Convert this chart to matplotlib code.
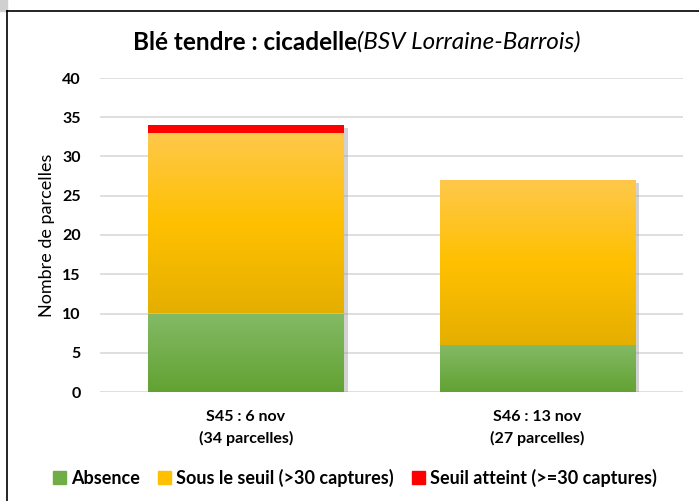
import numpy as np
import matplotlib
matplotlib.use("Agg")
import matplotlib.pyplot as plt
from matplotlib.colors import LinearSegmentedColormap
from matplotlib.patches import Rectangle
from matplotlib.lines import Line2D
import matplotlib.patheffects as pe

plt.rcParams['font.family'] = ['Lato', 'DejaVu Sans']

categories = ["S45 : 6 nov\n(34 parcelles)", "S46 : 13 nov\n(27 parcelles)"]
absence = [10, 6]
sous_seuil = [23, 21]
seuil_atteint = [1, 0]
series_names = ["Absence", "Sous le seuil (>30 captures)", "Seuil atteint (>=30 captures)"]
yticks = [0, 5, 10, 15, 20, 25, 30, 35, 40]

W, H = 699, 501
fig = plt.figure(figsize=(W / 100, H / 100), dpi=100)
ax = fig.add_axes([100 / W, 1 - 392 / H, (683 - 100) / W, (392 - 78) / H])

x = np.arange(len(categories))
width = 0.67

grad_specs = [
    ("green", ["#62A232", "#84BA66"], absence),
    ("yellow", ["#E5AF00", "#FFC000", "#FEC84C"], sous_seuil),
    ("red", ["#FF0000", "#FF0000"], seuil_atteint),
]
base_colors = ["#70AD47", "#FFC000", "#FF0000"]

shadow = [pe.SimplePatchShadow(offset=(3, -2), shadow_rgbFace="#909090", alpha=0.4), pe.Normal()]

bottom = np.zeros(len(categories))
for (name, cols, vals), base in zip(grad_specs, base_colors):
    vals = np.array(vals, dtype=float)
    bars = ax.bar(x, vals, width, bottom=bottom, color=base, zorder=3,
                  path_effects=shadow, linewidth=0)
    cmap = LinearSegmentedColormap.from_list(name, cols)
    grad = np.linspace(0, 1, 256).reshape(-1, 1)
    for b, v, b0 in zip(bars, vals, bottom):
        if v <= 0:
            continue
        x0 = b.get_x()
        im = ax.imshow(grad, cmap=cmap, aspect="auto", origin="lower",
                       extent=(x0, x0 + width, b0, b0 + v), zorder=3.5)
        im.set_clip_path(b)
    bottom += vals

ax.set_xlim(-0.5, len(categories) - 0.5)
ax.set_ylim(0, 40)
ax.set_yticks(yticks)
ax.set_yticklabels([str(t) for t in yticks], fontweight="bold", fontsize=11.5)
ax.set_xticks(x)
ax.set_xticklabels(categories, fontweight="bold", fontsize=11.5, linespacing=1.55)
ax.tick_params(axis="both", length=0)
ax.tick_params(axis="y", pad=14)
ax.tick_params(axis="x", pad=13)
ax.grid(axis="y", color="#D9D9D9", linewidth=1.2, zorder=0)
ax.set_axisbelow(True)
for s in ax.spines.values():
    s.set_visible(False)
ax.set_ylabel("Nombre de parcelles", fontsize=13, labelpad=5)

# Title (bold + italic parts)
tx = 357 / W
fig.text(tx, 1 - 42 / H, "Blé tendre : cicadelle", ha="right", va="center",
         fontsize=17.5, fontweight="bold")
fig.text(tx, 1 - 42 / H, "(BSV Lorraine-Barrois)", ha="left", va="center",
         fontsize=17.5, fontstyle="italic")

# Legend
handles = [Rectangle((0, 0), 1, 1, color=c) for c in base_colors]
fig.legend(handles, series_names, loc="center", bbox_to_anchor=(355 / W, 1 - 478 / H),
           ncol=3, frameon=False, prop={"weight": "bold", "size": 13},
           handlelength=0.7, handleheight=0.7, handletextpad=0.3, columnspacing=1.0)

# Chart frame
fig.add_artist(Line2D([7 / W, 1], [1 - 11 / H, 1 - 11 / H], color="black", linewidth=1.2,
                      transform=fig.transFigure))
fig.add_artist(Line2D([7 / W, 7 / W], [0, 1 - 11 / H], color="black", linewidth=1.2,
                      transform=fig.transFigure))
fig.add_artist(Rectangle((0, 1 - 11 / H), 7 / W, 11 / H, color="#D0D0D0",
                         transform=fig.transFigure))

fig.savefig("out.png", dpi=100)
